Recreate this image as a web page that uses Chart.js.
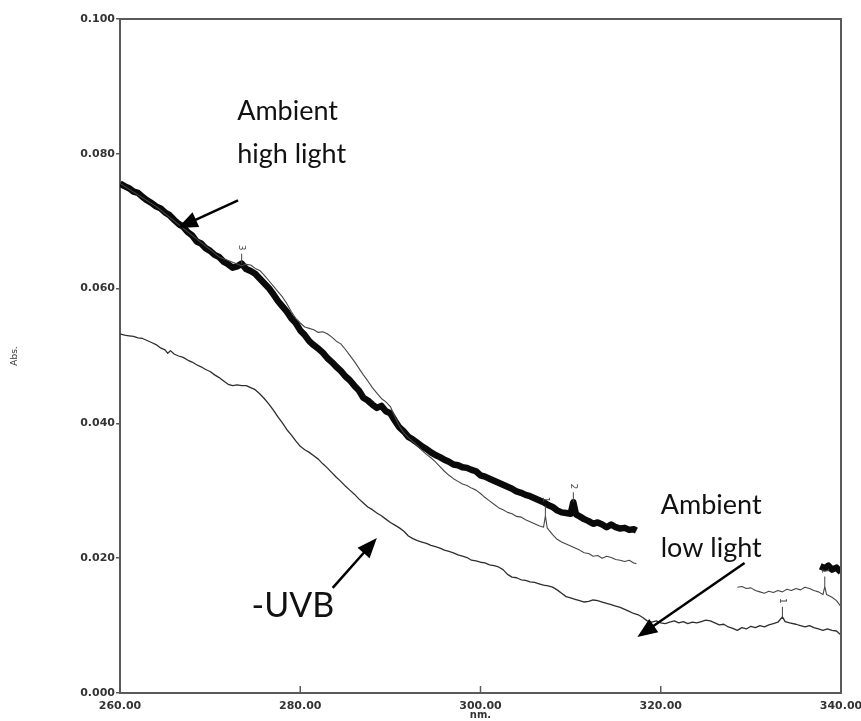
<!DOCTYPE html>
<html>
<head>
<meta charset="utf-8">
<title>Absorbance spectra</title>
<script src="https://cdn.jsdelivr.net/npm/chart.js@4.4.1/dist/chart.umd.min.js"></script>
<style>
  html, body { margin: 0; padding: 0; background: #fff; }
  #wrap { width: 861px; height: 721px; position: relative; }
</style>
</head>
<body>
<div id="wrap"><canvas id="specChart" width="861" height="721"></canvas></div>
<script>
// wavelength (nm) and absorbance for each trace; null marks a gap in the trace
const highNm = [260, 260.5, 261, 261.5, 262, 262.5, 263, 263.5, 264, 264.5, 265, 265.5, 266, 266.5, 267, 267.5, 268, 268.5, 269, 269.5,
    270, 270.5, 271, 271.5, 272, 272.5, 273, 273.5, 274, 274.5, 275, 275.5, 276, 276.5, 277, 277.5, 278, 278.5, 279, 279.5,
    280, 280.5, 281, 281.5, 282, 282.5, 283, 283.5, 284, 284.5, 285, 285.5, 286, 286.5, 287, 287.5, 288, 288.5, 289, 289.5,
    290, 290.5, 291, 291.5, 292, 292.5, 293, 293.5, 294, 294.5, 295, 295.5, 296, 296.5, 297, 297.5, 298, 298.5, 299, 299.5,
    300, 300.5, 301, 301.5, 302, 302.5, 303, 303.5, 304, 304.5, 305, 305.5, 306, 306.5, 307, 307.5, 308, 308.5, 309, 309.5,
    310, 310.3, 310.6, 311, 311.5, 312, 312.5, 313, 313.5, 314, 314.5, 315, 315.5, 316, 316.5, 317, 317.3,
    327, 337.7, 338.2, 338.6, 339, 339.5, 340];
const highAbs = [0.0756, 0.0752, 0.0749, 0.0744, 0.0742, 0.0736, 0.0731, 0.0727, 0.0722, 0.0719, 0.0713, 0.0709, 0.0702, 0.0696, 0.0692, 0.0684, 0.0679, 0.0670, 0.0667, 0.0660,
    0.0656, 0.0650, 0.0647, 0.0640, 0.0636, 0.0631, 0.0633, 0.0637, 0.0629, 0.0626, 0.0622, 0.0615, 0.0608, 0.0601, 0.0592, 0.0582, 0.0574, 0.0566, 0.0556, 0.0549,
    0.0538, 0.0531, 0.0522, 0.0516, 0.0511, 0.0505, 0.0497, 0.0491, 0.0484, 0.0478, 0.0470, 0.0464, 0.0456, 0.0449, 0.0438, 0.0434, 0.0428, 0.0423, 0.0426, 0.0418,
    0.0415, 0.0404, 0.0394, 0.0388, 0.0380, 0.0376, 0.0371, 0.0366, 0.0362, 0.0357, 0.0353, 0.0350, 0.0346, 0.0343, 0.0339, 0.0338, 0.0335, 0.0334, 0.0331, 0.0329,
    0.0323, 0.0321, 0.0318, 0.0315, 0.0312, 0.0309, 0.0306, 0.0303, 0.0299, 0.0297, 0.0294, 0.0292, 0.0289, 0.0286, 0.0283, 0.0279, 0.0276, 0.0271, 0.0268, 0.0267,
    0.0266, 0.0283, 0.0265, 0.0262, 0.0258, 0.0255, 0.0251, 0.0253, 0.0250, 0.0246, 0.0250, 0.0246, 0.0244, 0.0245, 0.0242, 0.0243, 0.0241,
    null, 0.0188, 0.0185, 0.0189, 0.0183, 0.0186, 0.0179];

const lowNm = [260, 264, 268, 271, 273.5, 274, 274.5, 275, 275.5, 276, 276.5, 277, 277.5, 278, 278.5, 279, 279.5,
    280, 280.5, 281, 281.5, 282, 282.5, 283, 283.5, 284, 284.5, 285, 285.5, 286, 286.5, 287, 287.5, 288, 288.5, 289, 289.5,
    290, 290.5, 291, 291.5, 292, 292.5, 293, 293.5, 294, 294.5, 295, 295.5, 296, 296.5, 297, 297.5, 298, 298.5, 299, 299.5,
    300, 300.5, 301, 301.5, 302, 302.5, 303, 303.5, 304, 304.5, 305, 305.5, 306, 306.5, 307, 307.2, 307.4, 308, 308.5, 309, 309.5,
    310, 310.5, 311, 311.5, 312, 312.5, 313, 313.5, 314, 314.5, 315, 315.5, 316, 316.5, 317, 317.3,
    323, 328.5, 329, 329.5, 330, 330.5, 331, 331.5, 332, 332.5, 333, 333.5, 334, 334.5, 335, 335.5, 336, 336.5, 337, 337.5,
    338, 338.2, 338.4, 339, 339.5, 340];
const lowAbs = [0.0756, 0.0722, 0.0679, 0.0647, 0.0634, 0.0636, 0.0635, 0.0630, 0.0627, 0.0620, 0.0612, 0.0604, 0.0596, 0.0588, 0.0578, 0.0566, 0.0556,
    0.0549, 0.0543, 0.0541, 0.0539, 0.0535, 0.0536, 0.0533, 0.0528, 0.0522, 0.0518, 0.0510, 0.0501, 0.0492, 0.0482, 0.0472, 0.0463, 0.0453, 0.0445, 0.0437, 0.0432,
    0.0425, 0.0410, 0.0396, 0.0386, 0.0379, 0.0373, 0.0367, 0.0360, 0.0354, 0.0349, 0.0343, 0.0336, 0.0329, 0.0323, 0.0318, 0.0314, 0.0310, 0.0308, 0.0304, 0.0301,
    0.0296, 0.0290, 0.0285, 0.0280, 0.0275, 0.0272, 0.0268, 0.0266, 0.0262, 0.0261, 0.0257, 0.0254, 0.0251, 0.0248, 0.0246, 0.0263, 0.0245, 0.0235, 0.0228, 0.0224, 0.0221,
    0.0218, 0.0215, 0.0212, 0.0208, 0.0207, 0.0203, 0.0204, 0.0200, 0.0203, 0.0201, 0.0198, 0.0197, 0.0195, 0.0197, 0.0193, 0.0192,
    null, 0.0157, 0.0158, 0.0155, 0.0156, 0.0152, 0.0150, 0.0148, 0.0151, 0.0149, 0.0152, 0.0150, 0.0154, 0.0152, 0.0155, 0.0153, 0.0157, 0.0155, 0.0152, 0.0150,
    0.0146, 0.0158, 0.0146, 0.0142, 0.0137, 0.0128];

const uvbNm = [260, 260.5, 261, 261.5, 262, 262.5, 263, 263.5, 264, 264.5, 265, 265.3, 265.6, 266, 266.5, 267, 267.5, 268, 268.5, 269, 269.5,
    270, 270.5, 271, 271.5, 272, 272.5, 273, 273.5, 274, 274.5, 275, 275.5, 276, 276.5, 277, 277.5, 278, 278.5, 279, 279.5,
    280, 280.5, 281, 281.5, 282, 282.5, 283, 283.5, 284, 284.5, 285, 285.5, 286, 286.5, 287, 287.5, 288, 288.5, 289, 289.5,
    290, 290.5, 291, 291.5, 292, 292.5, 293, 293.5, 294, 294.5, 295, 295.5, 296, 296.5, 297, 297.5, 298, 298.5, 299, 299.5,
    300, 300.5, 301, 301.5, 302, 302.5, 303, 303.5, 304, 304.5, 305, 305.5, 306, 306.5, 307, 307.5, 308, 308.5, 309, 309.5,
    310, 310.5, 311, 311.5, 312, 312.5, 313, 313.5, 314, 314.5, 315, 315.5, 316, 316.5, 317, 317.5, 318, 318.5, 319, 319.5,
    320, 320.5, 321, 321.5, 322, 322.5, 323, 323.5, 324, 324.5, 325, 325.5, 326, 326.5, 327, 327.5, 328, 328.5, 329, 329.5,
    330, 330.5, 331, 331.5, 332, 332.5, 333, 333.5, 333.8, 334.3, 335, 335.5, 336, 336.5, 337, 337.5, 338, 338.5, 339, 339.5, 340];
const uvbAbs = [0.0533, 0.0531, 0.0530, 0.0529, 0.0527, 0.0526, 0.0523, 0.0520, 0.0517, 0.0512, 0.0509, 0.0504, 0.0508, 0.0503, 0.0500, 0.0498, 0.0494, 0.0491, 0.0487, 0.0484, 0.0480,
    0.0477, 0.0472, 0.0468, 0.0463, 0.0458, 0.0456, 0.0457, 0.0456, 0.0456, 0.0453, 0.0450, 0.0444, 0.0437, 0.0429, 0.0420, 0.0410, 0.0401, 0.0391, 0.0383, 0.0374,
    0.0366, 0.0361, 0.0357, 0.0352, 0.0347, 0.0340, 0.0334, 0.0327, 0.0320, 0.0314, 0.0307, 0.0301, 0.0295, 0.0288, 0.0282, 0.0276, 0.0272, 0.0267, 0.0263, 0.0258,
    0.0253, 0.0249, 0.0245, 0.0240, 0.0233, 0.0229, 0.0226, 0.0224, 0.0222, 0.0219, 0.0217, 0.0215, 0.0212, 0.0210, 0.0208, 0.0205, 0.0203, 0.0201, 0.0197, 0.0196,
    0.0194, 0.0193, 0.0190, 0.0189, 0.0187, 0.0183, 0.0176, 0.0172, 0.0171, 0.0168, 0.0167, 0.0165, 0.0164, 0.0162, 0.0160, 0.0159, 0.0157, 0.0153, 0.0148, 0.0143,
    0.0141, 0.0139, 0.0137, 0.0135, 0.0136, 0.0138, 0.0137, 0.0135, 0.0133, 0.0131, 0.0129, 0.0127, 0.0124, 0.0121, 0.0118, 0.0116, 0.0112, 0.0107, 0.0105, 0.0107,
    0.0104, 0.0103, 0.0105, 0.0107, 0.0104, 0.0106, 0.0103, 0.0105, 0.0104, 0.0106, 0.0108, 0.0107, 0.0104, 0.0101, 0.0102, 0.0098, 0.0096, 0.0093, 0.0097, 0.0095,
    0.0099, 0.0097, 0.0100, 0.0098, 0.0101, 0.0103, 0.0105, 0.0113, 0.0106, 0.0104, 0.0102, 0.0100, 0.0098, 0.0100, 0.0097, 0.0095, 0.0093, 0.0095, 0.0093, 0.0092, 0.0086];

// peak picks printed by the instrument: [nm, absorbance at the peak, label]
const peakMarks = [[273.5, 0.0637, "3"], [310.3, 0.0283, "2"], [307.2, 0.0263, "1"], [333.5, 0.0113, "1"], [338.2, 0.0158, "1"]];

// callouts in data units: text lines, text anchor, arrow tail and tip
const callouts = [
    { lines: ["Ambient", "high light"], at: [273.0, 0.0850], size: 27, tail: [273.1, 0.0731], tip: [266.4, 0.0690] },
    { lines: ["-UVB"], at: [274.6, 0.0113], size: 34, tail: [283.6, 0.0156], tip: [288.5, 0.0230] },
    { lines: ["Ambient", "low light"], at: [320.0, 0.0266], size: 27, tail: [329.3, 0.0193], tip: [317.4, 0.0083] }
];

const xTicks = [260, 280, 300, 320, 340];
const yTicks = [0, 0.02, 0.04, 0.06, 0.08, 0.1];

function toPoints(xs, ys)
{
    return xs.map((x, i) => ({ x: x, y: ys[i] }));
}

const axisFont = { family: "DejaVu Sans", size: 11, weight: "bold" };
const frameColor = "#5a5a5a";

function drawArrow(ctx, x1, y1, x2, y2)
{
    const ang = Math.atan2(y2 - y1, x2 - x1);
    const head = 20, half = 8;
    ctx.beginPath();
    ctx.moveTo(x1, y1);
    ctx.lineTo(x2 - Math.cos(ang) * head * 0.8, y2 - Math.sin(ang) * head * 0.8);
    ctx.lineWidth = 2.5;
    ctx.strokeStyle = "#000";
    ctx.stroke();
    ctx.beginPath();
    ctx.moveTo(x2, y2);
    ctx.lineTo(x2 - Math.cos(ang) * head - Math.sin(ang) * half, y2 - Math.sin(ang) * head + Math.cos(ang) * half);
    ctx.lineTo(x2 - Math.cos(ang) * head + Math.sin(ang) * half, y2 - Math.sin(ang) * head - Math.cos(ang) * half);
    ctx.closePath();
    ctx.fillStyle = "#000";
    ctx.fill();
}

const decorPlugin = {
    id: "decor",
    afterDraw(chart) {
        const ctx = chart.ctx;
        const xs = chart.scales.x, ys = chart.scales.y;
        const area = chart.chartArea;
        ctx.save();

        // top and right edges of the frame
        ctx.strokeStyle = frameColor;
        ctx.lineWidth = 2;
        ctx.beginPath();
        ctx.moveTo(area.left, area.top);
        ctx.lineTo(area.right, area.top);
        ctx.lineTo(area.right, area.bottom);
        ctx.stroke();

        // x ticks point into the plot
        ctx.lineWidth = 1.5;
        xTicks.slice(1, -1).forEach(v => {
            const px = xs.getPixelForValue(v);
            ctx.beginPath();
            ctx.moveTo(px, area.bottom);
            ctx.lineTo(px, area.bottom - 7);
            ctx.stroke();
        });

        // axis titles
        ctx.fillStyle = "#333";
        ctx.font = "bold 10px 'DejaVu Sans'";
        ctx.textAlign = "center";
        ctx.textBaseline = "middle";
        ctx.fillText("nm.", xs.getPixelForValue(300), 715);
        ctx.save();
        ctx.translate(15, (area.top + area.bottom) / 2);
        ctx.rotate(-Math.PI / 2);
        ctx.font = "9px 'DejaVu Sans'";
        ctx.fillText("Abs.", 0, 0);
        ctx.restore();

        // peak picks: short stem and rotated number
        ctx.strokeStyle = "#444";
        ctx.fillStyle = "#444";
        ctx.lineWidth = 1;
        peakMarks.forEach(([nm, a, label]) => {
            const px = xs.getPixelForValue(nm);
            const py = ys.getPixelForValue(a);
            ctx.beginPath();
            ctx.moveTo(px, py);
            ctx.lineTo(px, py - 10);
            ctx.stroke();
            ctx.save();
            ctx.translate(px, py - 16);
            ctx.rotate(Math.PI / 2);
            ctx.font = "9px 'DejaVu Sans'";
            ctx.textAlign = "center";
            ctx.textBaseline = "middle";
            ctx.fillText(label, 0, 0);
            ctx.restore();
        });

        // callout text and arrows
        callouts.forEach(c => {
            ctx.font = c.size + "px Lato";
            ctx.fillStyle = "#111";
            ctx.textAlign = "left";
            ctx.textBaseline = "alphabetic";
            const tx = xs.getPixelForValue(c.at[0]);
            const ty = ys.getPixelForValue(c.at[1]);
            c.lines.forEach((line, i) => ctx.fillText(line, tx, ty + i * 43));
            drawArrow(ctx,
                xs.getPixelForValue(c.tail[0]), ys.getPixelForValue(c.tail[1]),
                xs.getPixelForValue(c.tip[0]), ys.getPixelForValue(c.tip[1]));
        });
        ctx.restore();
    }
};

const ctx = document.getElementById("specChart").getContext("2d");

const specChart = new Chart(ctx, {
    type: "line",
    data: {
        datasets: [
            {
                label: "-UVB",
                data: toPoints(uvbNm, uvbAbs),
                borderColor: "#2e2e2e",
                borderWidth: 1.3
            },
            {
                label: "Ambient low light",
                data: toPoints(lowNm, lowAbs),
                borderColor: "#4a4448",
                borderWidth: 1.1
            },
            {
                label: "Ambient high light",
                data: toPoints(highNm, highAbs),
                borderColor: "#0a0a0a",
                borderWidth: 6.5
            }
        ]
    },
    options: {
        responsive: false,
        animation: false,
        spanGaps: false,
        elements: {
            point: { radius: 0 },
            line: { tension: 0, borderJoinStyle: "round" }
        },
        layout: { padding: { top: 19, right: 20, left: 0, bottom: 0 } },
        plugins: {
            legend: { display: false },
            tooltip: { enabled: false }
        },
        scales: {
            x: {
                type: "linear",
                min: 260,
                max: 340,
                afterBuildTicks: s => { s.ticks = xTicks.map(v => ({ value: v })); },
                afterFit: s => { s.height = 28; s.paddingLeft = 0; s.paddingRight = 0; },
                grid: { display: false },
                border: { color: frameColor, width: 2 },
                ticks: {
                    color: "#333",
                    font: axisFont,
                    maxRotation: 0,
                    autoSkip: false,
                    padding: -1,
                    callback: v => Number(v).toFixed(2)
                }
            },
            y: {
                min: 0,
                max: 0.1,
                afterBuildTicks: s => { s.ticks = yTicks.map(v => ({ value: v })); },
                afterFit: s => { s.width = 120; s.paddingTop = 0; s.paddingBottom = 0; },
                grid: { drawOnChartArea: false, drawTicks: true, tickLength: 4, color: frameColor, lineWidth: 1.5 },
                border: { color: frameColor, width: 2 },
                ticks: {
                    color: "#333",
                    font: axisFont,
                    padding: 1,
                    callback: v => Number(v).toFixed(3)
                }
            }
        }
    },
    plugins: [decorPlugin]
});
</script>
</body>
</html>
